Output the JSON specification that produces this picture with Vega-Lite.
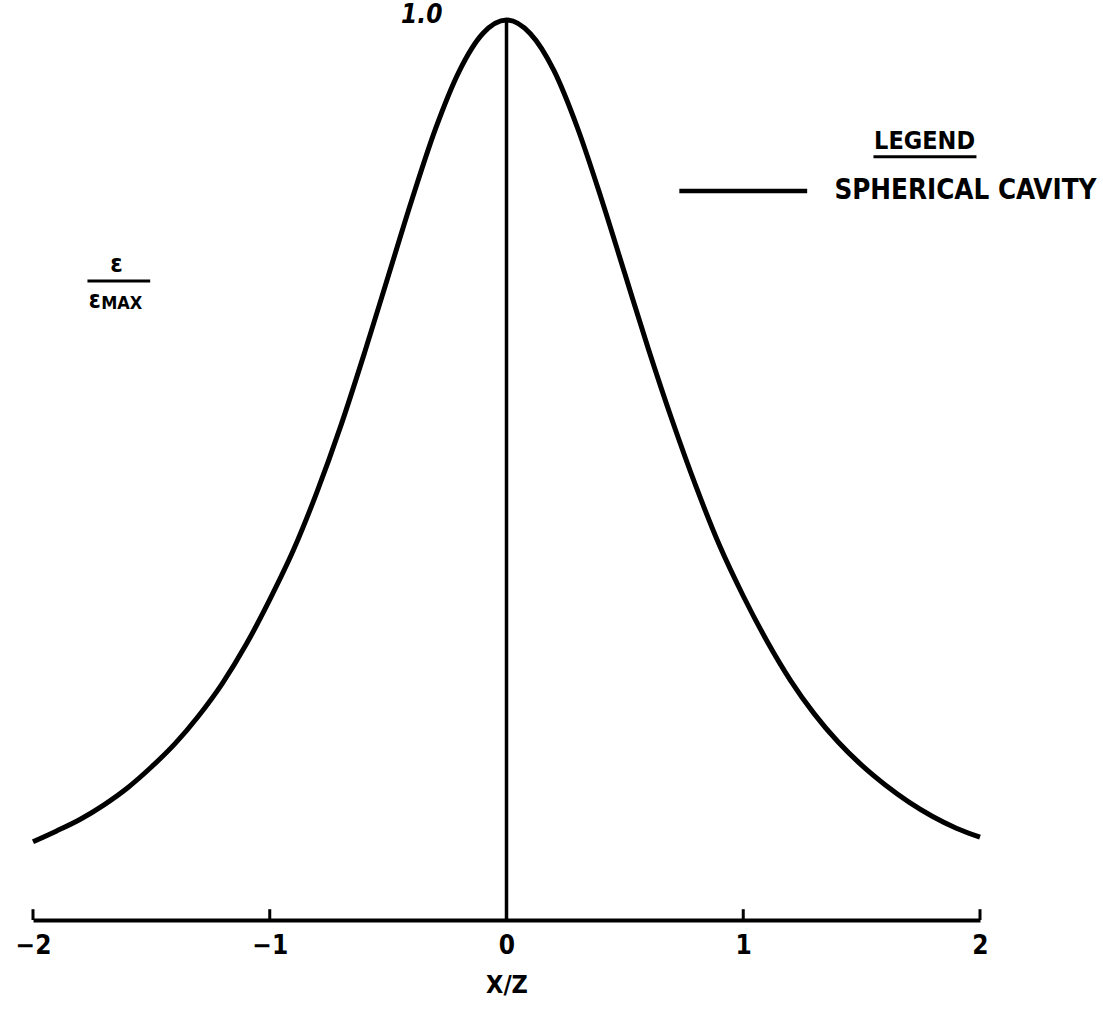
{
  "$schema": "https://vega.github.io/schema/vega-lite/v6.json",
  "width": 947,
  "height": 900,
  "autosize": {"type": "none"},
  "padding": {"left": 33, "top": 20, "right": 123, "bottom": 95},
  "background": "white",
  "config": {
    "view": {"stroke": null},
    "font": "DejaVu Sans Condensed",
    "axisX": {
      "tickCount": 4,
      "format": "d",
      "grid": false,
      "ticks": false,
      "domainColor": "black", "domainWidth": 4,
      "labelFont": "DejaVu Sans Condensed", "labelFontWeight": "bold",
      "labelFontSize": 26, "labelColor": "black", "labelPadding": 12,
      "labelFlush": false,
      "titleFont": "DejaVu Sans Condensed", "titleFontWeight": "bold",
      "titleFontSize": 25, "titleColor": "black", "titlePadding": 14
    }
  },
  "data": {
    "values": [
      {"x": -2.0, "v": 0.087, "series": "SPHERICAL CAVITY"},
      {"x": -1.9, "v": 0.099, "series": "SPHERICAL CAVITY"},
      {"x": -1.8, "v": 0.112, "series": "SPHERICAL CAVITY"},
      {"x": -1.7, "v": 0.128, "series": "SPHERICAL CAVITY"},
      {"x": -1.6, "v": 0.147, "series": "SPHERICAL CAVITY"},
      {"x": -1.5, "v": 0.170, "series": "SPHERICAL CAVITY"},
      {"x": -1.4, "v": 0.196, "series": "SPHERICAL CAVITY"},
      {"x": -1.3, "v": 0.227, "series": "SPHERICAL CAVITY"},
      {"x": -1.2, "v": 0.263, "series": "SPHERICAL CAVITY"},
      {"x": -1.1, "v": 0.306, "series": "SPHERICAL CAVITY"},
      {"x": -1.0, "v": 0.356, "series": "SPHERICAL CAVITY"},
      {"x": -0.9, "v": 0.411, "series": "SPHERICAL CAVITY"},
      {"x": -0.8, "v": 0.476, "series": "SPHERICAL CAVITY"},
      {"x": -0.7, "v": 0.549, "series": "SPHERICAL CAVITY"},
      {"x": -0.6, "v": 0.630, "series": "SPHERICAL CAVITY"},
      {"x": -0.5, "v": 0.715, "series": "SPHERICAL CAVITY"},
      {"x": -0.4, "v": 0.800, "series": "SPHERICAL CAVITY"},
      {"x": -0.3, "v": 0.879, "series": "SPHERICAL CAVITY"},
      {"x": -0.2, "v": 0.943, "series": "SPHERICAL CAVITY"},
      {"x": -0.1, "v": 0.985, "series": "SPHERICAL CAVITY"},
      {"x": 0.0, "v": 1.0, "series": "SPHERICAL CAVITY"},
      {"x": 0.1, "v": 0.985, "series": "SPHERICAL CAVITY"},
      {"x": 0.2, "v": 0.944, "series": "SPHERICAL CAVITY"},
      {"x": 0.3, "v": 0.880, "series": "SPHERICAL CAVITY"},
      {"x": 0.4, "v": 0.802, "series": "SPHERICAL CAVITY"},
      {"x": 0.5, "v": 0.718, "series": "SPHERICAL CAVITY"},
      {"x": 0.6, "v": 0.634, "series": "SPHERICAL CAVITY"},
      {"x": 0.7, "v": 0.555, "series": "SPHERICAL CAVITY"},
      {"x": 0.8, "v": 0.482, "series": "SPHERICAL CAVITY"},
      {"x": 0.9, "v": 0.416, "series": "SPHERICAL CAVITY"},
      {"x": 1.0, "v": 0.360, "series": "SPHERICAL CAVITY"},
      {"x": 1.1, "v": 0.310, "series": "SPHERICAL CAVITY"},
      {"x": 1.2, "v": 0.266, "series": "SPHERICAL CAVITY"},
      {"x": 1.3, "v": 0.229, "series": "SPHERICAL CAVITY"},
      {"x": 1.4, "v": 0.198, "series": "SPHERICAL CAVITY"},
      {"x": 1.5, "v": 0.172, "series": "SPHERICAL CAVITY"},
      {"x": 1.6, "v": 0.150, "series": "SPHERICAL CAVITY"},
      {"x": 1.7, "v": 0.131, "series": "SPHERICAL CAVITY"},
      {"x": 1.8, "v": 0.115, "series": "SPHERICAL CAVITY"},
      {"x": 1.9, "v": 0.102, "series": "SPHERICAL CAVITY"},
      {"x": 2.0, "v": 0.092, "series": "SPHERICAL CAVITY"}
    ]
  },
  "layer": [
    {
      "data": {"values": [{"x": 0, "y0": 0, "y1": 1}]},
      "mark": {"type": "rule", "color": "black", "strokeWidth": 3.5},
      "encoding": {
        "x": {"field": "x", "type": "quantitative", "title": "X/Z", "scale": {"domain": [-2, 2], "nice": false}},
        "y": {"field": "y0", "type": "quantitative", "scale": {"domain": [0, 1], "nice": false}, "axis": null},
        "y2": {"field": "y1"}
      }
    },
    {
      "data": {"values": [
        {"x": -2, "y0": 0, "y1": 0.012},
        {"x": -1, "y0": 0, "y1": 0.012},
        {"x": 1, "y0": 0, "y1": 0.012},
        {"x": 2, "y0": 0, "y1": 0.012}
      ]},
      "mark": {"type": "rule", "color": "black", "strokeWidth": 3},
      "encoding": {
        "x": {"field": "x", "type": "quantitative", "title": "X/Z"},
        "y": {"field": "y0", "type": "quantitative", "axis": null},
        "y2": {"field": "y1"}
      }
    },
    {
      "mark": {"type": "line", "strokeWidth": 5, "interpolate": "monotone", "color": "black"},
      "encoding": {
        "x": {"field": "x", "type": "quantitative", "title": "X/Z", "scale": {"domain": [-2, 2], "nice": false}},
        "y": {"field": "v", "type": "quantitative", "scale": {"domain": [0, 1], "nice": false}, "axis": null},
        "detail": {"field": "series", "type": "nominal"}
      }
    },
    {
      "data": {"values": [
        {"x0": -1.77, "x1": -1.505, "y": 0.710},
        {"x0": 1.55, "x1": 1.985, "y": 0.848}
      ]},
      "mark": {"type": "rule", "color": "black", "strokeWidth": 3},
      "encoding": {
        "x": {"field": "x0", "type": "quantitative", "title": "X/Z"},
        "x2": {"field": "x1"},
        "y": {"field": "y", "type": "quantitative", "axis": null}
      }
    },
    {
      "data": {"values": [{"x0": 0.73, "x1": 1.27, "y": 0.81}]},
      "mark": {"type": "rule", "color": "black", "strokeWidth": 4.5},
      "encoding": {
        "x": {"field": "x0", "type": "quantitative", "title": "X/Z"},
        "x2": {"field": "x1"},
        "y": {"field": "y", "type": "quantitative", "axis": null}
      }
    },
    {
      "data": {"values": [{"x": 1.385, "y": 0.81, "text": "SPHERICAL CAVITY"}]},
      "mark": {"type": "text", "color": "black", "font": "DejaVu Sans Condensed", "fontWeight": "bold", "fontSize": 27.5, "align": "left", "baseline": "middle"},
      "encoding": {
        "x": {"field": "x", "type": "quantitative", "title": "X/Z"},
        "y": {"field": "y", "type": "quantitative", "axis": null},
        "text": {"field": "text"}
      }
    },
    {
      "data": {"values": [{"x": 0, "y": 1, "text": "1.0"}]},
      "mark": {"type": "text", "color": "black", "font": "DejaVu Sans Condensed", "fontWeight": "bold", "fontStyle": "italic", "fontSize": 26, "align": "right", "baseline": "middle", "dx": -64, "dy": -5},
      "encoding": {
        "x": {"field": "x", "type": "quantitative", "title": "X/Z"},
        "y": {"field": "y", "type": "quantitative", "axis": null},
        "text": {"field": "text"}
      }
    },
    {
      "data": {"values": [
        {"x": -1.647, "y": 0.729, "text": "ε"},
        {"x": 1.766, "y": 0.866, "text": "LEGEND"}
      ]},
      "mark": {"type": "text", "color": "black", "font": "DejaVu Sans Condensed", "fontWeight": "bold", "fontSize": 25, "align": "center", "baseline": "middle"},
      "encoding": {
        "x": {"field": "x", "type": "quantitative", "title": "X/Z"},
        "y": {"field": "y", "type": "quantitative", "axis": null},
        "text": {"field": "text"}
      }
    },
    {
      "data": {"values": [{"x": -1.765, "y": 0.688, "text": "ε"}]},
      "mark": {"type": "text", "color": "black", "font": "DejaVu Sans Condensed", "fontWeight": "bold", "fontSize": 24, "align": "left", "baseline": "middle"},
      "encoding": {
        "x": {"field": "x", "type": "quantitative", "title": "X/Z"},
        "y": {"field": "y", "type": "quantitative", "axis": null},
        "text": {"field": "text"}
      }
    },
    {
      "data": {"values": [{"x": -1.712, "y": 0.684, "text": "MAX"}]},
      "mark": {"type": "text", "color": "black", "font": "DejaVu Sans Condensed", "fontWeight": "bold", "fontSize": 18, "align": "left", "baseline": "middle"},
      "encoding": {
        "x": {"field": "x", "type": "quantitative", "title": "X/Z"},
        "y": {"field": "y", "type": "quantitative", "axis": null},
        "text": {"field": "text"}
      }
    }
  ]
}
